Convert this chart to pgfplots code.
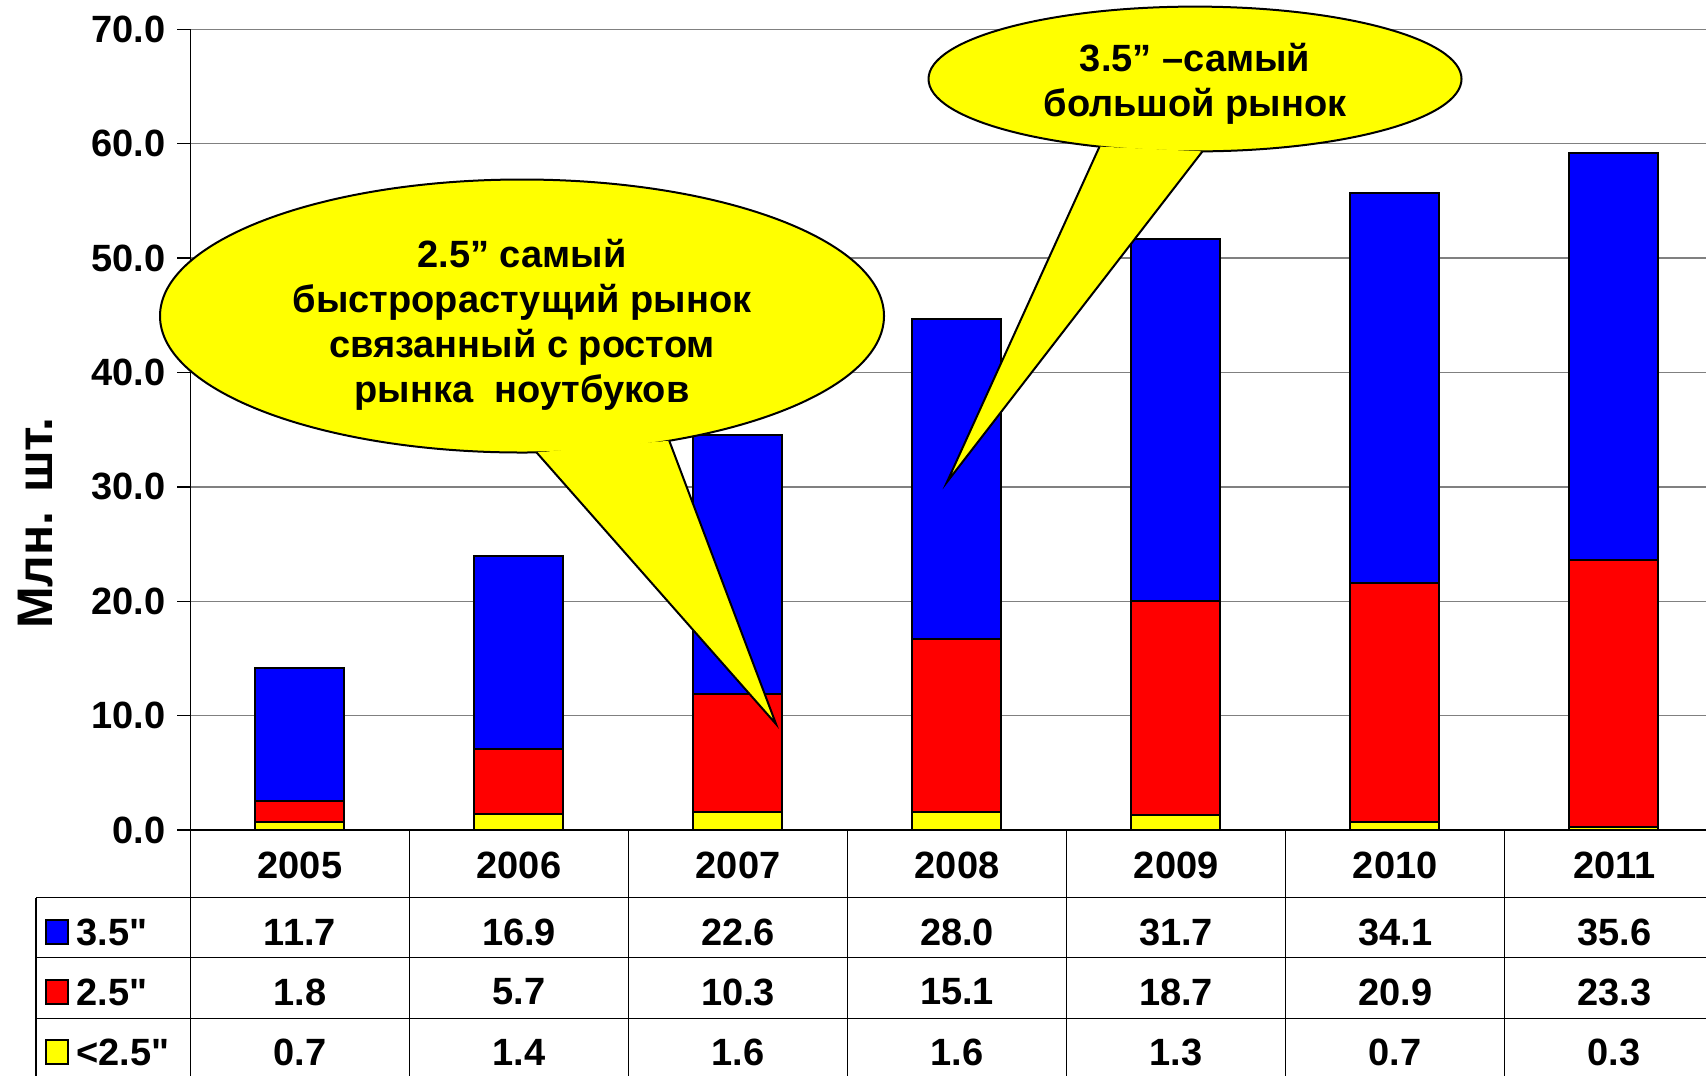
\documentclass[border=0pt]{standalone}
\usepackage{fontspec}
\setmainfont{Liberation Sans}[Ligatures=TeXOff]
\usepackage{pgfplots}
\pgfplotsset{compat=1.18}
\definecolor{cblue}{RGB}{0,0,255}
\definecolor{cred}{RGB}{255,0,0}
\definecolor{cyellow}{RGB}{255,255,0}
\begin{document}
\begin{tikzpicture}[x=0.3pt,y=0.3pt, font=\fontsize{11.4}{13}\selectfont\bfseries]
\useasboundingbox (0,0) rectangle (1706,-1075);
\clip (0,0) rectangle (1706,-1075);
\begin{axis}[
  at={(57.12pt,-249pt)}, anchor=south west,
  scale only axis, width=459.9pt, height=240.2pt,
  xmin=-0.5, xmax=6.5, ymin=0, ymax=70,
  ybar stacked, bar width=26.7pt,
  axis lines=left, axis line style={-, black, line width=0.5pt},
  xtick=\empty,
  ytick={0,10,...,70},
  ymajorgrids, grid style={gray, line width=0.45pt},
  tick align=outside, major tick length=3.9pt,
  ytick style={black, line width=0.45pt},
  yticklabel style={/pgf/number format/fixed, /pgf/number format/fixed zerofill, /pgf/number format/precision=1, /pgf/number format/assume math mode=true, font=\fontsize{11.4}{13}\selectfont\bfseries},
  clip=false,
]
\addplot[fill=cyellow, draw=black, line width=0.6pt] coordinates {(0,0.7) (1,1.4) (2,1.6) (3,1.6) (4,1.3) (5,0.7) (6,0.3)};
\addplot[fill=cred, draw=black, line width=0.6pt] coordinates {(0,1.8) (1,5.7) (2,10.3) (3,15.1) (4,18.7) (5,20.9) (6,23.3)};
\addplot[fill=cblue, draw=black, line width=0.6pt] coordinates {(0,11.7) (1,16.9) (2,22.6) (3,28.0) (4,31.7) (5,34.1) (6,35.6)};
\end{axis}
% data table
\begin{scope}[line width=0.45pt]
\foreach \yy in {897.6,957.5,1018.5} \draw (36,-\yy) -- (1706,-\yy);
\draw (36,-897.6) -- (36,-1080);
\foreach \k in {0,...,7} \draw ({190.4+\k*219.05},-830) -- ({190.4+\k*219.05},-1080);
\end{scope}
\foreach \v [count=\k from 0] in {2005,2006,2007,2008,2009,2010,2011} \node at ({190.4+(\k+0.5)*219.05},-865) {\v};
\foreach \v [count=\k from 0] in {11.7,16.9,22.6,28.0,31.7,34.1,35.6} \node at ({190.4+(\k+0.5)*219.05},-932) {\v};
\foreach \v [count=\k from 0] in {1.8,5.7,10.3,15.1,18.7,20.9,23.3} \node at ({190.4+(\k+0.5)*219.05},-992) {\v};
\foreach \v [count=\k from 0] in {0.7,1.4,1.6,1.6,1.3,0.7,0.3} \node at ({190.4+(\k+0.5)*219.05},-1052) {\v};
\draw[fill=cblue, line width=0.5pt] (46,-920) rectangle (68,-944);
\draw[fill=cred, line width=0.5pt] (46,-980) rectangle (68,-1004);
\draw[fill=cyellow, line width=0.5pt] (46,-1040) rectangle (68,-1064);
\node[anchor=west, inner sep=0pt] at (76,-932) {3.5"};
\node[anchor=west, inner sep=0pt] at (76,-992) {2.5"};
\node[anchor=west, inner sep=0pt] at (76,-1052) {<2.5"};
% y label
\node[rotate=90, font=\fontsize{15}{18}\selectfont\bfseries] at (36,-523) {Млн. шт.};
% callout left
\coordinate (c1) at (522,-316);
\path (c1) ++(-87.7:362 and 136.5) coordinate (b1);
\path (c1) ++(-66:362 and 136.5) coordinate (b2);
\draw[fill=cyellow, line width=0.6pt] (c1) ellipse [x radius=362, y radius=136.5];
\fill[cyellow] (b1) -- (776,-724) -- (b2) -- cycle;
\draw[line width=0.6pt, line join=miter] (b1) -- (776,-724) -- (b2);
\node[align=center, font=\fontsize{11.4}{13.5}\selectfont\bfseries] at (522,-324.5) {2.5” самый\\быстрорастущий рынок\\связанный с ростом\\рынка\ \ ноутбуков};
% callout right
\coordinate (c2) at (1195,-79);
\path (c2) ++(-111:266.5 and 72.4) coordinate (d1);
\path (c2) ++(-88.4:266.5 and 72.4) coordinate (d2);
\draw[fill=cyellow, line width=0.6pt] (c2) ellipse [x radius=266.5, y radius=72.4];
\fill[cyellow] (d1) -- (947,-482) -- (d2) -- cycle;
\draw[line width=0.6pt, line join=miter] (d1) -- (947,-482) -- (d2);
\node[align=center, font=\fontsize{11.4}{13.5}\selectfont\bfseries] at (1195,-83.5) {3.5” –самый\\большой рынок};
\end{tikzpicture}
\end{document}
